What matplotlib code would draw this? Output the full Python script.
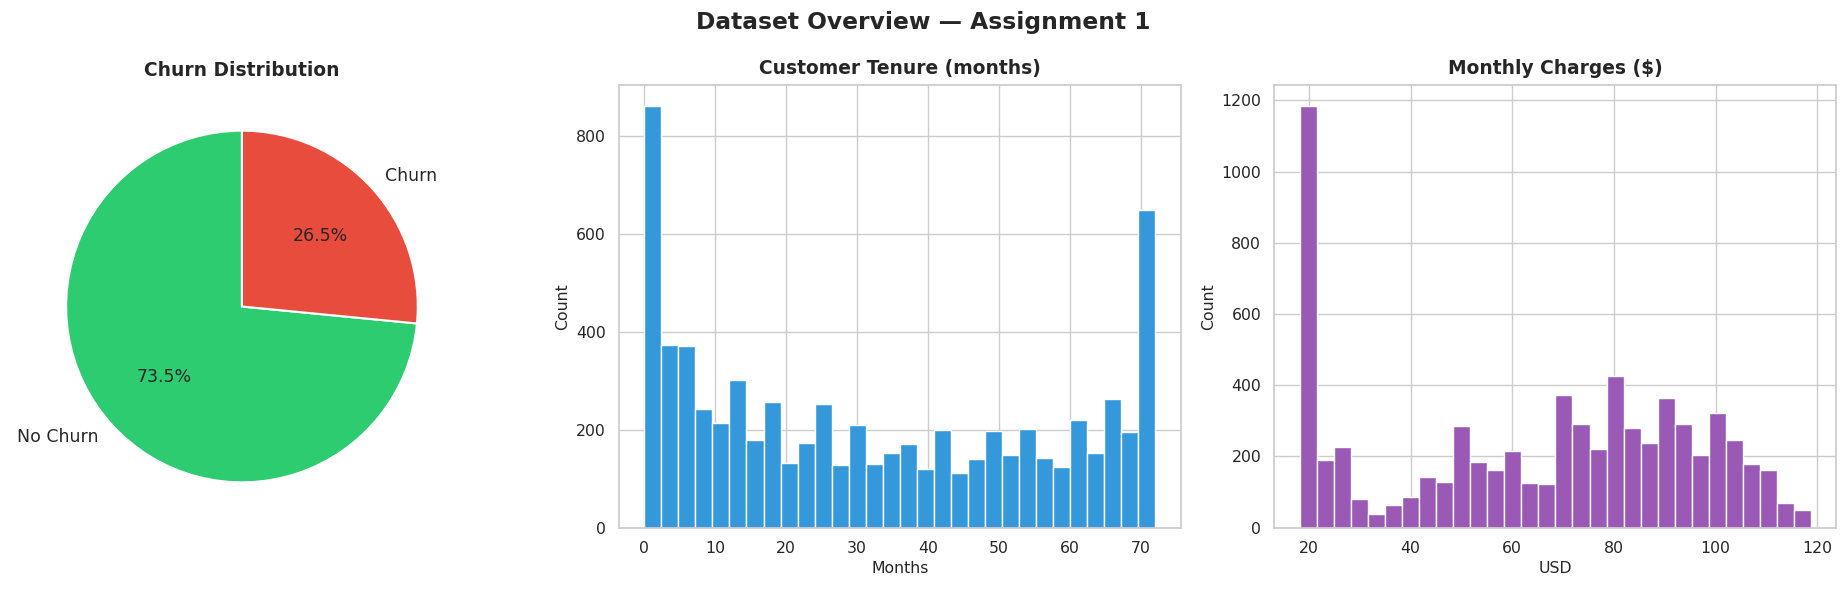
import numpy as np
import matplotlib
matplotlib.use("Agg")
import matplotlib.pyplot as plt
import seaborn as sns

# churn split (Telco data)
churn_labels = ["No Churn", "Churn"]
churn_counts = [5174, 1869]
churn_colors = ["#2ecc71", "#e74c3c"]

# tenure histogram, 30 bins over 0..72 months
tenure_range = (0, 72)
tenure_counts = [861, 374, 372, 242, 214, 301, 179, 257, 133, 174,
                 252, 128, 209, 131, 152, 172, 119, 199, 111, 141,
                 197, 148, 201, 143, 125, 221, 152, 262, 195, 650]

# monthly charges histogram, 30 bins over 18.25..118.75 USD
charges_range = (18.25, 118.75)
charges_counts = [1183, 190, 226, 80, 38, 63, 85, 142, 128, 285,
                  185, 161, 215, 125, 122, 373, 291, 221, 426, 280,
                  238, 364, 291, 204, 322, 246, 178, 162, 70, 49]

sns.set_theme(style="whitegrid")
plt.rcParams["font.family"] = ["DejaVu Sans"]

TICK = 11.3
TITLE = 13.4

fig, (ax1, ax2, ax3) = plt.subplots(1, 3, figsize=(18.47, 5.94), dpi=100)
fig.suptitle("Dataset Overview \u2014 Assignment 1", fontsize=16.8,
             fontweight="bold", y=0.962, va="center")

# pie
ax1.pie(churn_counts, labels=churn_labels, colors=churn_colors,
        autopct="%1.1f%%", startangle=90,
        wedgeprops={"edgecolor": "white", "linewidth": 1.5},
        textprops={"fontsize": 12.5})
ax1.set_title("Churn Distribution", fontsize=TITLE, fontweight="bold", pad=8)
ax1.set_position([0.012, 0.1116, 0.238, 0.7448])


def draw_hist(ax, counts, rng, color, title, xlabel):
    edges = np.linspace(rng[0], rng[1], len(counts) + 1)
    ax.bar(edges[:-1], counts, width=np.diff(edges), align="edge",
           color=color, edgecolor="white", linewidth=1.0)
    ax.set_title(title, fontsize=TITLE, fontweight="bold", pad=8)
    ax.set_xlabel(xlabel, fontsize=TICK)
    ax.set_ylabel("Count", fontsize=TICK)
    ax.tick_params(labelsize=TICK)
    ax.set_axisbelow(True)


draw_hist(ax2, tenure_counts, tenure_range, "#3498db",
          "Customer Tenure (months)", "Months")
ax2.set_position([0.335, 0.1116, 0.3043, 0.7448])

draw_hist(ax3, charges_counts, charges_range, "#9b59b6",
          "Monthly Charges ($)", "USD")
ax3.set_position([0.690, 0.1116, 0.3043, 0.7448])

plt.savefig("out.png", dpi=100)
plt.close()
